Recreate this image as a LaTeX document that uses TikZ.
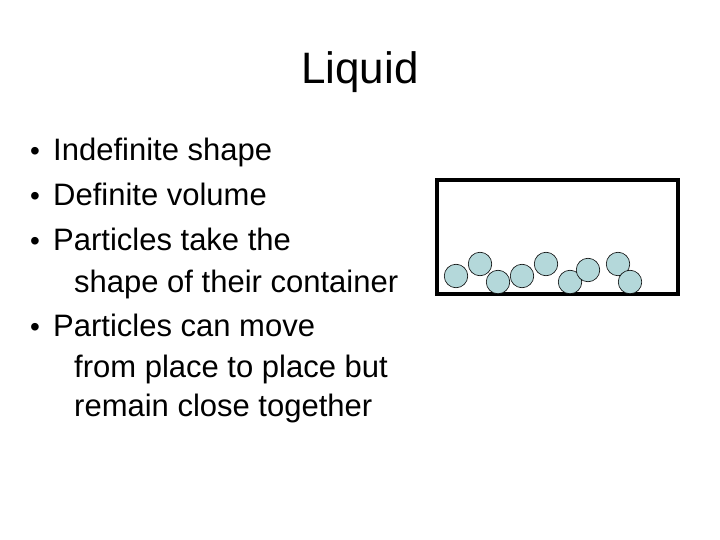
\documentclass[tikz,border=0pt]{standalone}
\usepackage{fontspec}
\setmainfont{Liberation Sans}
\begin{document}
\begin{tikzpicture}[x=1pt,y=-1pt,
  txt/.style={anchor=base west,inner sep=0pt,font=\fontsize{31}{35}\selectfont},
  bul/.style={anchor=base,inner sep=0pt,font=\fontsize{28}{32}\selectfont},
  part/.style={circle,draw=black,line width=0.6pt,fill={rgb,255:red,180;green,216;blue,218},minimum size=23.5pt,inner sep=0pt}]
\useasboundingbox[fill=white] (0,0) rectangle (720,540);
\node[anchor=base,inner sep=0pt,font=\fontsize{44}{48}\selectfont] (title) at (360,84) {Liquid};
\node[bul] (b1) at (35,161) {•};
\node[txt] (l1) at (53,161) {Indefinite shape};
\node[bul] (b2) at (35,206) {•};
\node[txt] (l2) at (53,206) {Definite volume};
\node[bul] (b3) at (35,251) {•};
\node[txt] (l3) at (53,251) {Particles take the};
\node[txt] (l3b) at (74,292) {shape of their container};
\node[bul] (b4) at (35,336) {•};
\node[txt] (l4) at (53,336) {Particles can move};
\node[txt] (l4b) at (74,377) {from place to place but};
\node[txt] (l4c) at (74,416) {remain close together};
\draw[line width=3.5pt] (437,180) rectangle (678,294);
\node[part] (p1) at (456,276) {};
\node[part] (p2) at (480,264) {};
\node[part] (p3) at (498,282) {};
\node[part] (p4) at (522,276) {};
\node[part] (p5) at (546,264) {};
\node[part] (p6) at (570,282) {};
\node[part] (p7) at (588,270) {};
\node[part] (p8) at (618,264) {};
\node[part] (p9) at (630,282) {};
\end{tikzpicture}
\end{document}
